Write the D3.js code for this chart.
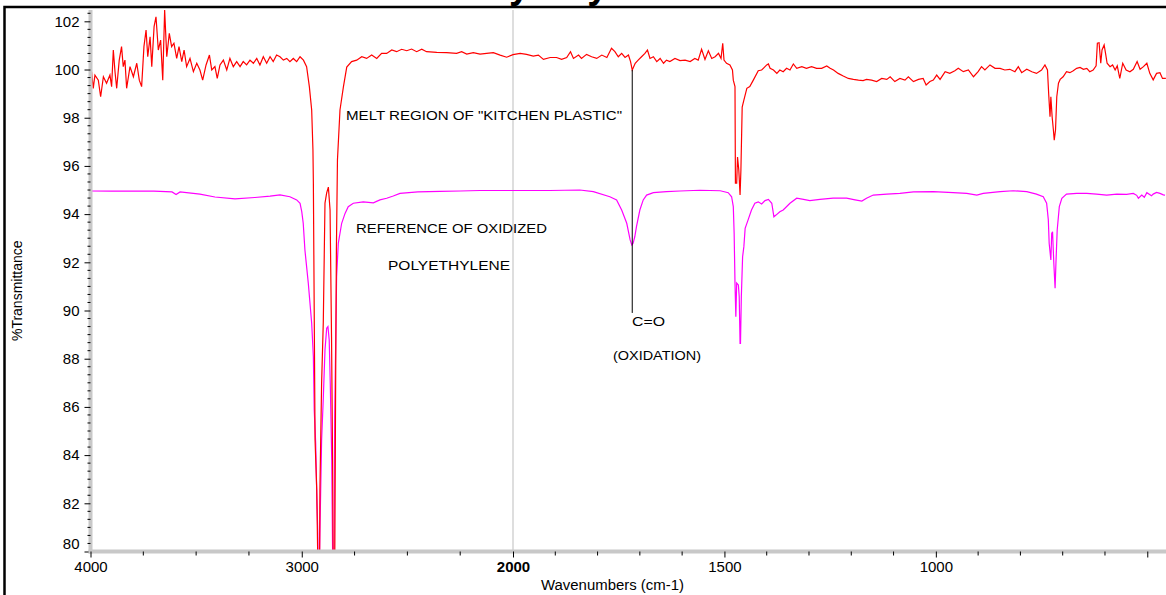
<!DOCTYPE html>
<html>
<head>
<meta charset="utf-8">
<title>Kitchen plastic FTIR</title>
<script src="https://d3js.org/d3.v7.min.js"></script>
<style>
  body { margin: 0; background: #fff; }
  svg { display: block; font-family: "Liberation Sans", Arial, sans-serif; }
  .axis text { font-size: 15px; fill: #000; }
  .axis .domain { stroke: #c8c8c8; stroke-width: 4px; }
  .axis line { stroke: #000; }
  .note { font-size: 13px; fill: #000; }
</style>
</head>
<body>
<svg width="1166" height="595"></svg>
<script>
// [wavenumber cm-1, %T]
const meltSpectrum = [
  [4000,99.70],[3995,99.91],[3987,99.22],[3979,99.77],[3963,99.56],[3952,98.87],[3939,99.70],[3924,99.43],
  [3908,99.77],[3900,99.29],[3892,100.81],[3884,99.91],[3876,99.22],[3864,100.39],[3853,100.95],[3845,100.12],
  [3837,100.39],[3829,99.22],[3813,100.12],[3797,99.70],[3781,100.26],[3769,99.56],[3758,99.29],[3747,100.95],
  [3737,101.64],[3729,100.53],[3718,101.36],[3710,100.12],[3699,101.78],[3690,102.19],[3679,100.81],[3668,101.22],
  [3658,99.56],[3649,102.47],[3639,100.53],[3627,101.50],[3616,100.95],[3605,101.09],[3592,100.46],[3581,100.95],
  [3568,100.33],[3557,100.81],[3545,100.12],[3529,100.46],[3513,99.91],[3497,100.26],[3482,99.98],[3469,99.56],
  [3453,100.19],[3437,100.60],[3426,99.98],[3411,100.12],[3400,99.63],[3387,100.19],[3371,100.39],[3355,99.98],
  [3340,100.46],[3324,100.12],[3308,100.33],[3292,100.12],[3277,100.33],[3261,100.19],[3245,100.39],[3229,100.26],
  [3213,100.46],[3198,100.19],[3182,100.53],[3166,100.26],[3150,100.53],[3135,100.33],[3119,100.60],[3103,100.53],
  [3087,100.39],[3071,100.46],[3056,100.33],[3040,100.46],[3024,100.33],[3008,100.53],[2992,100.39],[2977,100.12],
  [2964,99.29],[2953,98.32],[2947,96.66],[2945,95.29],[2937,84.63],[2929,82.55],[2923,79],[2916,79],
  [2914,82.55],[2906,86.99],[2898,89.52],[2890,94.46],[2882,94.88],[2874,95.12],[2866,94.17],[2859,88.90],
  [2854,83.80],[2851,79],[2844,79],[2840,86.29],[2836,92.51],[2831,96.24],[2819,98.32],[2803,99.27],
  [2787,100.10],[2764,100.33],[2740,100.39],[2716,100.53],[2693,100.46],[2669,100.60],[2645,100.46],[2622,100.67],
  [2598,100.67],[2574,100.81],[2551,100.74],[2527,100.84],[2503,100.78],[2480,100.85],[2456,100.74],[2432,100.84],
  [2409,100.74],[2361,100.71],[2314,100.70],[2267,100.67],[2243,100.74],[2219,100.64],[2188,100.70],[2156,100.64],
  [2125,100.67],[2093,100.70],[2061,100.60],[2030,100.51],[2000,100.62],[1983,100.67],[1968,100.63],[1952,100.56],
  [1940,100.60],[1928,100.42],[1912,100.50],[1897,100.50],[1885,100.42],[1873,100.50],[1864,100.74],[1857,100.46],
  [1845,100.60],[1838,100.46],[1826,100.63],[1814,100.53],[1802,100.46],[1790,100.60],[1778,100.50],[1767,100.88],
  [1759,100.74],[1751,100.53],[1743,100.67],[1735,100.50],[1727,100.60],[1722,100.33],[1718,99.98],[1711,100.26],
  [1704,100.39],[1696,100.53],[1688,100.67],[1682,100.81],[1676,100.46],[1668,100.53],[1660,100.33],[1652,100.46],
  [1644,100.26],[1637,100.39],[1629,100.33],[1617,100.46],[1605,100.37],[1593,100.39],[1581,100.33],[1570,100.46],
  [1562,100.39],[1554,100.84],[1546,100.42],[1538,100.78],[1530,100.46],[1522,100.53],[1514,100.67],[1508,100.46],
  [1504,101.09],[1501,100.39],[1495,100.26],[1487,100.19],[1481,99.98],[1479,99.56],[1475,99.29],[1474,95.29],
  [1471,95.29],[1469,96.37],[1466,95.83],[1463,94.79],[1461,95.83],[1458,98.44],[1454,98.73],[1447,99.22],
  [1440,99.29],[1432,99.55],[1420,99.95],[1412,99.98],[1408,100.05],[1400,100.19],[1396,100.23],[1392,100.05],
  [1384,99.98],[1376,99.84],[1369,99.98],[1361,99.91],[1353,100.05],[1345,99.98],[1337,100.23],[1329,100.05],
  [1317,100.12],[1306,100.05],[1294,100.12],[1282,100.05],[1270,100.05],[1258,100.15],[1250,100.05],[1242,99.98],
  [1231,99.84],[1219,99.73],[1207,99.63],[1195,99.59],[1183,99.56],[1172,99.54],[1164,99.59],[1152,99.56],
  [1140,99.50],[1128,99.63],[1116,99.59],[1108,99.70],[1097,99.50],[1085,99.63],[1073,99.56],[1065,99.70],
  [1053,99.50],[1041,99.59],[1030,99.63],[1023,99.36],[1014,99.50],[1006,99.56],[998,99.77],[990,99.59],
  [978,99.91],[967,99.84],[955,99.95],[947,100.05],[935,99.91],[923,99.98],[911,99.70],[900,99.91],
  [892,100.12],[884,99.98],[872,100.19],[860,100.05],[848,100.05],[837,99.98],[825,100.01],[813,99.91],
  [805,100.12],[797,99.87],[785,100.01],[773,99.91],[762,99.84],[750,99.98],[742,100.19],[736,99.98],
  [733,98.94],[730,98.04],[728,98.87],[725,98.04],[722,97.49],[720,97.07],[717,97.49],[714,98.87],
  [710,99.43],[706,99.59],[699,99.70],[691,99.91],[683,99.87],[675,99.95],[667,100.05],[659,100.09],
  [651,100.01],[643,100.05],[636,99.91],[628,99.98],[621,100.15],[618,101.09],[614,101.11],[610,100.26],
  [607,100.81],[602,101.02],[598,100.60],[595,100.26],[588,100.12],[582,100.19],[576,99.98],[571,100.15],
  [565,99.63],[558,100.26],[550,99.98],[541,99.91],[533,100.01],[524,100.33],[517,100.01],[509,100.12],
  [501,100.26],[494,99.84],[486,99.57],[478,99.84],[470,99.87],[464,99.63],[456,99.63]
];

const refSpectrum = [
  [4000,94.96],[3900,94.95],[3813,94.96],[3700,94.95],[3671,94.94],[3614,94.92],[3595,94.81],[3576,94.92],
  [3482,94.83],[3411,94.71],[3316,94.63],[3222,94.69],[3150,94.75],[3103,94.80],[3056,94.72],[3024,94.59],
  [3008,94.45],[3000,94.10],[2993,93.62],[2985,92.51],[2969,91.13],[2953,89.47],[2945,88.08],[2941,85.87],
  [2934,84.49],[2929,82.41],[2924,80.76],[2922,79],[2917,79],[2914,80.77],[2906,84.63],[2898,86.36],
  [2890,88.36],[2882,89.26],[2876,89.33],[2870,88.78],[2865,86.98],[2858,83.80],[2853,79],[2847,79],
  [2844,85.59],[2839,88.91],[2835,91.40],[2827,92.79],[2811,93.62],[2795,94.03],[2780,94.31],[2756,94.45],
  [2709,94.51],[2661,94.47],[2630,94.59],[2598,94.66],[2567,94.75],[2535,94.86],[2450,94.92],[2346,94.94],
  [2250,94.96],[2156,94.98],[2000,94.98],[1913,94.98],[1842,95.00],[1810,94.93],[1771,94.72],[1755,94.59],
  [1743,94.17],[1731,93.62],[1723,92.93],[1719,92.72],[1716,92.79],[1712,93.06],[1708,93.48],[1700,94.17],
  [1692,94.59],[1684,94.79],[1668,94.89],[1637,94.93],[1605,94.96],[1558,94.99],[1510,94.97],[1491,94.89],
  [1483,94.72],[1479,94.31],[1477,93.20],[1475,91.13],[1473,89.74],[1471,91.14],[1467,91.06],[1465,90.57],
  [1463,88.64],[1462,88.64],[1460,90.57],[1457,92.23],[1454,92.65],[1451,93.41],[1444,93.76],[1436,94.17],
  [1428,94.45],[1420,94.51],[1412,94.42],[1404,94.56],[1396,94.61],[1388,94.45],[1383,93.89],[1378,93.96],
  [1369,94.10],[1361,94.17],[1345,94.45],[1329,94.66],[1313,94.61],[1298,94.56],[1274,94.61],[1243,94.66],
  [1211,94.66],[1191,94.59],[1175,94.54],[1164,94.66],[1148,94.79],[1116,94.83],[1085,94.86],[1053,94.92],
  [1006,94.93],[959,94.89],[927,94.86],[903,94.79],[888,94.86],[848,94.93],[817,94.97],[785,94.93],
  [762,94.83],[746,94.72],[738,94.45],[734,93.76],[732,92.79],[728,92.10],[726,93.20],[724,93.27],
  [721,91.96],[718,90.92],[716,91.96],[713,93.34],[708,94.31],[702,94.66],[691,94.83],[667,94.86],
  [643,94.86],[620,94.83],[596,94.79],[572,94.83],[549,94.82],[533,94.86],[525,94.78],[521,94.66],
  [513,94.79],[507,94.70],[501,94.89],[490,94.76],[486,94.83],[478,94.90],[470,94.86],[462,94.80],[458,94.79]
];

const xMajor = [4000, 3000, 2000, 1500, 1000, 500];
const xMajorLabels = ["4000", "3000", "2000", "1500", "1000", ""];
const xMinor = [3750, 3500, 3250, 2750, 2500, 2250, 1900, 1800, 1700, 1600,
                1400, 1300, 1200, 1100, 900, 800, 700, 600];
const yMajor = [80, 82, 84, 86, 88, 90, 92, 94, 96, 98, 100, 102];
const carbonylWn = 1718;

const svg = d3.select("svg");
const W = 1166, H = 595;
const mLeft = 90.5, mRight = W, mTop = 10, mBottom = 551.5;

// OMNIC style split axis: 4000-2000 compressed by half
const x = d3.scaleLinear().domain([4000, 2000, 455.7]).range([mLeft, 513, mRight]);
const y = d3.scaleLinear().domain([80, 102.47]).range([mBottom, mTop]);

svg.append("defs").append("clipPath").attr("id", "plot")
  .append("rect").attr("x", mLeft).attr("y", mTop - 1)
  .attr("width", mRight - mLeft).attr("height", mBottom - mTop + 1);

// title, mostly cut off by the top of the picture
svg.append("text")
  .attr("x", 450).attr("y", -2)
  .attr("font-size", 38).attr("font-weight", "bold")
  .text("Polyethylene");

// frame
svg.append("path")
  .attr("d", `M4.5,${H} V7 H${W}`)
  .attr("fill", "none").attr("stroke", "#000").attr("stroke-width", 2.5);

// scale break line at 2000
svg.append("line")
  .attr("x1", x(2000)).attr("x2", x(2000)).attr("y1", mTop).attr("y2", mBottom)
  .attr("stroke", "#bdbdbd").attr("stroke-width", 1);

const line = d3.line().x(d => x(d[0])).y(d => y(d[1]));

const plot = svg.append("g").attr("clip-path", "url(#plot)");
plot.append("path").datum(refSpectrum)
  .attr("d", line).attr("fill", "none").attr("stroke", "#ff00ff").attr("stroke-width", 1.2);
plot.append("path").datum(meltSpectrum)
  .attr("d", line).attr("fill", "none").attr("stroke", "#ff0000").attr("stroke-width", 1.2);

// y axis
const yAxis = svg.append("g").attr("class", "axis").attr("transform", `translate(${mLeft},0)`)
  .call(d3.axisLeft(y).tickValues(yMajor).tickSize(6).tickSizeOuter(0).tickPadding(5).tickFormat(d3.format("d")));
yAxis.select(".domain").attr("d", `M0,${mTop}V${mBottom + 2}`);
yAxis.selectAll(".tick").filter(d => d === 80).select("text").attr("dy", "-0.2em");
yAxis.selectAll(".minor").data(d3.range(80, 102.4, 1 / 3).filter(v => Math.abs(v - Math.round(v / 2) * 2) > 0.05))
  .join("line").attr("class", "minor")
  .attr("x1", -3).attr("x2", 0).attr("y1", d => y(d)).attr("y2", d => y(d))
  .attr("stroke", "#000");

// x axis
const xAxis = svg.append("g").attr("class", "axis").attr("transform", `translate(0,${mBottom})`)
  .call(d3.axisBottom(x).tickValues(xMajor).tickSize(6).tickSizeOuter(0).tickPadding(4)
    .tickFormat((d, i) => xMajorLabels[i]));
xAxis.select(".domain").attr("d", `M${mLeft - 2},0H${mRight}`);
xAxis.selectAll(".tick").filter(d => d === 2000).select("text").attr("font-weight", "bold");
xAxis.selectAll(".minor").data(xMinor)
  .join("line").attr("class", "minor")
  .attr("x1", d => x(d)).attr("x2", d => x(d)).attr("y1", 0).attr("y2", 4)
  .attr("stroke", "#000");

svg.append("text")
  .attr("transform", `translate(22,${(mTop + mBottom) / 2 + 10}) rotate(-90)`)
  .attr("text-anchor", "middle").attr("font-size", 14)
  .text("%Transmittance");
svg.append("text")
  .attr("x", 541).attr("y", 590).attr("font-size", 14)
  .attr("textLength", 143).attr("lengthAdjust", "spacingAndGlyphs")
  .text("Wavenumbers (cm-1)");

// annotations
svg.append("line")
  .attr("x1", x(carbonylWn)).attr("x2", x(carbonylWn))
  .attr("y1", y(99.98)).attr("y2", y(89.9))
  .attr("stroke", "#000").attr("stroke-width", 1);

const notes = [
  { text: 'MELT REGION OF "KITCHEN PLASTIC"', x: 346, y: 120, w: 276 },
  { text: "REFERENCE OF OXIDIZED", x: 356, y: 233, w: 191 },
  { text: "POLYETHYLENE", x: 388, y: 270, w: 122 },
  { text: "C=O", x: 632, y: 326, w: 33 },
  { text: "(OXIDATION)", x: 613, y: 360, w: 88 }
];
svg.selectAll(".note").data(notes).join("text")
  .attr("class", "note")
  .attr("x", d => d.x).attr("y", d => d.y)
  .attr("textLength", d => d.w).attr("lengthAdjust", "spacingAndGlyphs")
  .text(d => d.text);
</script>
</body>
</html>
